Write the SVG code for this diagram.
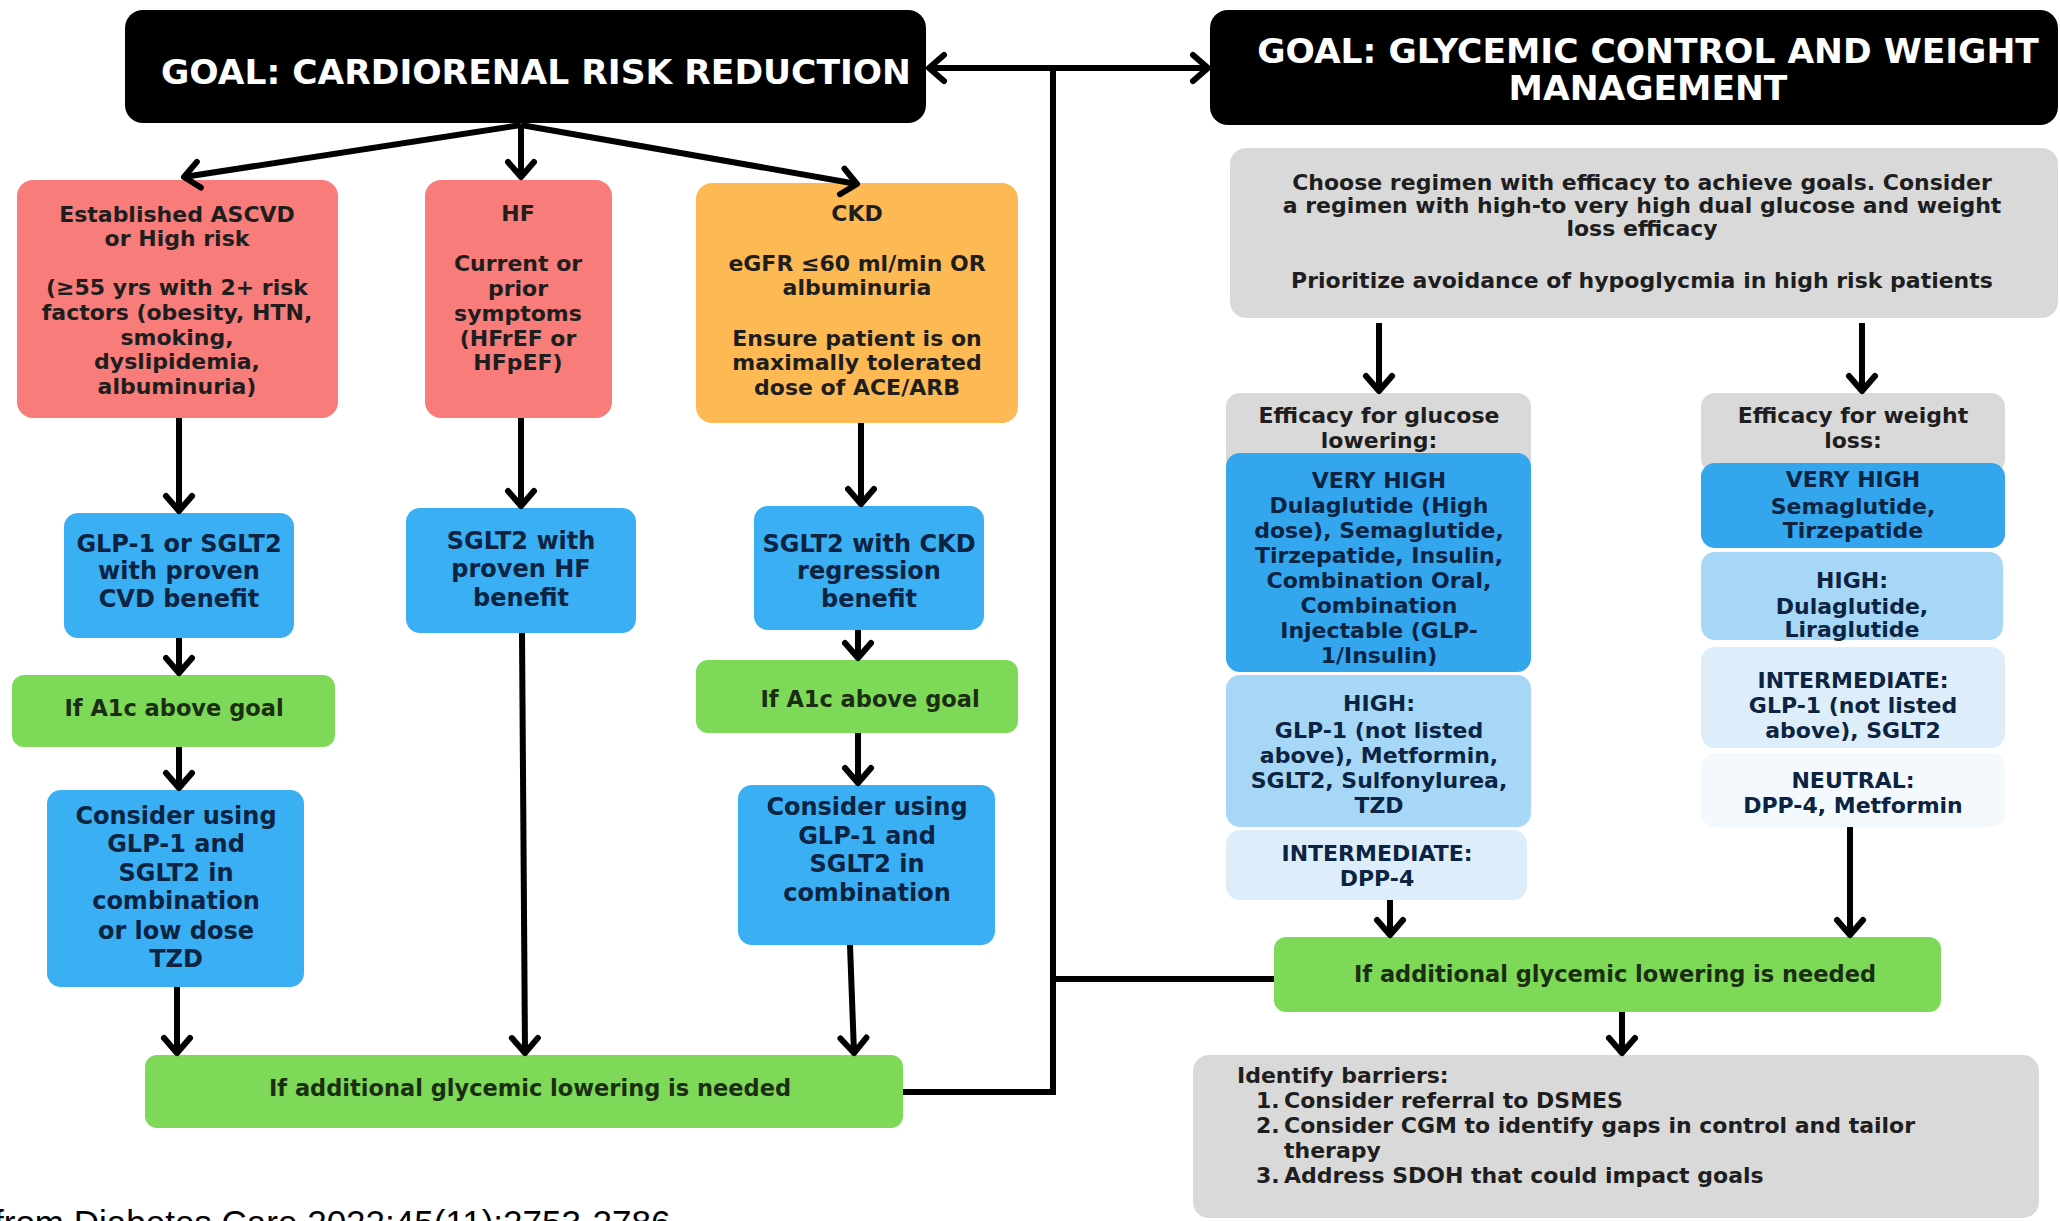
<svg xmlns="http://www.w3.org/2000/svg" width="2060" height="1221" viewBox="0 0 2060 1221">
<defs>
<marker id="ah" viewBox="0 0 26 34" refX="20" refY="17" markerWidth="26" markerHeight="34" markerUnits="userSpaceOnUse" orient="auto-start-reverse">
<path d="M5,4 L20,17 L5,30" fill="none" stroke="#000" stroke-width="6" stroke-linecap="round" stroke-linejoin="round"/>
</marker>
<style>
text { font-family: "DejaVu Sans", "Liberation Sans", sans-serif; font-weight: bold; text-anchor: middle; }
.s { font-size: 22px; fill: #1e1e1e; }
.b { font-size: 24px; fill: #0c2442; }
.e { font-size: 22px; fill: #0c2442; }
.g { font-size: 22.5px; fill: #1b2d12; }
.l { text-anchor: start; }
.title { font-size: 34.5px; fill: #ffffff; }
.black { fill: #000000; }
.red { fill: #F87C7A; }
.orange { fill: #FDBA54; }
.blue { fill: #3BAFF3; }
.green { fill: #7DD957; }
.grey { fill: #D9D9D9; }
.vh { fill: #33A6EE; }
.hi { fill: #A6D7F7; }
.im { fill: #DDEEFA; }
.nu { fill: #F4F9FD; }
.conn { fill: none; stroke: #000; stroke-width: 6; }
.arr { marker-end: url(#ah); }
</style>
</defs>
<rect x="0" y="0" width="2060" height="1221" fill="#ffffff"/>

<g id="goal-cardiorenal">
<rect class="black" x="125" y="10" width="801" height="113" rx="18"/>
<text class="title" x="536" y="84">GOAL: CARDIORENAL RISK REDUCTION</text>
</g>

<g id="goal-glycemic">
<rect class="black" x="1210" y="10" width="848" height="115" rx="18"/>
<text class="title" x="1648" y="63">GOAL: GLYCEMIC CONTROL AND WEIGHT</text>
<text class="title" x="1648" y="100">MANAGEMENT</text>
</g>

<g id="ascvd">
<rect class="red" x="17" y="180" width="321" height="238" rx="16"/>
<text class="s" x="177" y="222">Established ASCVD</text>
<text class="s" x="177" y="246">or High risk</text>
<text class="s" x="177" y="295">(≥55 yrs with 2+ risk</text>
<text class="s" x="177" y="320">factors (obesity, HTN,</text>
<text class="s" x="177" y="345">smoking,</text>
<text class="s" x="177" y="369">dyslipidemia,</text>
<text class="s" x="177" y="394">albuminuria)</text>
</g>

<g id="hf">
<rect class="red" x="425" y="180" width="187" height="238" rx="16"/>
<text class="s" x="518" y="221">HF</text>
<text class="s" x="518" y="271">Current or</text>
<text class="s" x="518" y="296">prior</text>
<text class="s" x="518" y="321">symptoms</text>
<text class="s" x="518" y="346">(HFrEF or</text>
<text class="s" x="518" y="370">HFpEF)</text>
</g>

<g id="ckd">
<rect class="orange" x="696" y="183" width="322" height="240" rx="16"/>
<text class="s" x="857" y="221">CKD</text>
<text class="s" x="857" y="271">eGFR ≤60 ml/min OR</text>
<text class="s" x="857" y="295">albuminuria</text>
<text class="s" x="857" y="346">Ensure patient is on</text>
<text class="s" x="857" y="370">maximally tolerated</text>
<text class="s" x="857" y="395">dose of ACE/ARB</text>
</g>

<g id="glp1-sglt2-cvd">
<rect class="blue" x="64" y="513" width="230" height="125" rx="14"/>
<text class="b" x="179" y="552">GLP-1 or SGLT2</text>
<text class="b" x="179" y="579">with proven</text>
<text class="b" x="179" y="607">CVD benefit</text>
</g>

<g id="sglt2-hf">
<rect class="blue" x="406" y="508" width="230" height="125" rx="14"/>
<text class="b" x="521" y="549">SGLT2 with</text>
<text class="b" x="521" y="577">proven HF</text>
<text class="b" x="521" y="606">benefit</text>
</g>

<g id="sglt2-ckd">
<rect class="blue" x="754" y="506" width="230" height="124" rx="14"/>
<text class="b" x="869" y="552">SGLT2 with CKD</text>
<text class="b" x="869" y="579">regression</text>
<text class="b" x="869" y="607">benefit</text>
</g>

<g id="a1c-left">
<rect class="green" x="12" y="675" width="323" height="72" rx="12"/>
<text class="g" x="174" y="716">If A1c above goal</text>
</g>

<g id="a1c-right">
<rect class="green" x="696" y="660" width="322" height="73" rx="12"/>
<text class="g" x="870" y="707">If A1c above goal</text>
</g>

<g id="combo-left">
<rect class="blue" x="47" y="790" width="257" height="197" rx="14"/>
<text class="b" x="176" y="824">Consider using</text>
<text class="b" x="176" y="852">GLP-1 and</text>
<text class="b" x="176" y="881">SGLT2 in</text>
<text class="b" x="176" y="909">combination</text>
<text class="b" x="176" y="939">or low dose</text>
<text class="b" x="176" y="967">TZD</text>
</g>

<g id="combo-right">
<rect class="blue" x="738" y="785" width="257" height="160" rx="14"/>
<text class="b" x="867" y="815">Consider using</text>
<text class="b" x="867" y="844">GLP-1 and</text>
<text class="b" x="867" y="872">SGLT2 in</text>
<text class="b" x="867" y="901">combination</text>
</g>

<g id="additional-left">
<rect class="green" x="145" y="1055" width="758" height="73" rx="12"/>
<text class="g" x="530" y="1096">If additional glycemic lowering is needed</text>
</g>

<g id="choose-regimen">
<rect class="grey" x="1230" y="148" width="828" height="170" rx="16"/>
<text class="s" x="1642" y="190">Choose regimen with efficacy to achieve goals. Consider</text>
<text class="s" x="1642" y="213">a regimen with high-to very high dual glucose and weight</text>
<text class="s" x="1642" y="236">loss efficacy</text>
<text class="s" x="1642" y="288">Prioritize avoidance of hypoglycmia in high risk patients</text>
</g>

<g id="glucose-efficacy">
<rect class="grey" x="1226" y="393" width="305" height="80" rx="14"/>
<text class="s" x="1379" y="423">Efficacy for glucose</text>
<text class="s" x="1379" y="448">lowering:</text>
<rect class="vh" x="1226" y="453" width="305" height="219" rx="14"/>
<text class="e" x="1379" y="488">VERY HIGH</text>
<text class="e" x="1379" y="513">Dulaglutide (High</text>
<text class="e" x="1379" y="538">dose), Semaglutide,</text>
<text class="e" x="1379" y="563">Tirzepatide, Insulin,</text>
<text class="e" x="1379" y="588">Combination Oral,</text>
<text class="e" x="1379" y="613">Combination</text>
<text class="e" x="1379" y="638">Injectable (GLP-</text>
<text class="e" x="1379" y="663">1/Insulin)</text>
<rect class="hi" x="1226" y="675" width="305" height="152" rx="14"/>
<text class="e" x="1379" y="711">HIGH:</text>
<text class="e" x="1379" y="738">GLP-1 (not listed</text>
<text class="e" x="1379" y="763">above), Metformin,</text>
<text class="e" x="1379" y="788">SGLT2, Sulfonylurea,</text>
<text class="e" x="1379" y="813">TZD</text>
<rect class="im" x="1226" y="830" width="301" height="70" rx="14"/>
<text class="e" x="1377" y="861">INTERMEDIATE:</text>
<text class="e" x="1377" y="886">DPP-4</text>
</g>

<g id="weight-efficacy">
<rect class="grey" x="1701" y="393" width="304" height="80" rx="14"/>
<text class="s" x="1853" y="423">Efficacy for weight</text>
<text class="s" x="1853" y="448">loss:</text>
<rect class="vh" x="1701" y="463" width="304" height="85" rx="14"/>
<text class="e" x="1853" y="487">VERY HIGH</text>
<text class="e" x="1853" y="514">Semaglutide,</text>
<text class="e" x="1853" y="538">Tirzepatide</text>
<rect class="hi" x="1701" y="552" width="302" height="88" rx="14"/>
<text class="e" x="1852" y="588">HIGH:</text>
<text class="e" x="1852" y="614">Dulaglutide,</text>
<text class="e" x="1852" y="637">Liraglutide</text>
<rect class="im" x="1701" y="647" width="304" height="101" rx="14"/>
<text class="e" x="1853" y="688">INTERMEDIATE:</text>
<text class="e" x="1853" y="713">GLP-1 (not listed</text>
<text class="e" x="1853" y="738">above), SGLT2</text>
<rect class="nu" x="1701" y="753" width="304" height="74" rx="14"/>
<text class="e" x="1853" y="788">NEUTRAL:</text>
<text class="e" x="1853" y="813">DPP-4, Metformin</text>
</g>

<g id="additional-right">
<rect class="green" x="1274" y="937" width="667" height="75" rx="12"/>
<text class="g" x="1615" y="982">If additional glycemic lowering is needed</text>
</g>

<g id="barriers">
<rect class="grey" x="1193" y="1055" width="846" height="163" rx="16"/>
<text class="s l" x="1237" y="1083">Identify barriers:</text>
<text class="s l" x="1256" y="1108">1.<tspan x="1284">Consider referral to DSMES</tspan></text>
<text class="s l" x="1256" y="1133">2.<tspan x="1284">Consider CGM to identify gaps in control and tailor</tspan></text>
<text class="s l" x="1284" y="1158">therapy</text>
<text class="s l" x="1256" y="1183">3.<tspan x="1284">Address SDOH that could impact goals</tspan></text>
</g>

<g id="connectors">
<path class="conn" d="M929,68 L1208,68" marker-start="url(#ah)" marker-end="url(#ah)"/>
<path class="conn" d="M1053,68 L1053,1092 L903,1092"/>
<path class="conn" d="M1053,979 L1274,979"/>
<path class="conn arr" d="M521,125 L184,177"/>
<path class="conn arr" d="M521,125 L521,177"/>
<path class="conn arr" d="M521,125 L857,184"/>
<path class="conn arr" d="M179,418 L179,511"/>
<path class="conn arr" d="M179,638 L179,673"/>
<path class="conn arr" d="M179,747 L179,788"/>
<path class="conn arr" d="M177,987 L177,1053"/>
<path class="conn arr" d="M521,418 L521,506"/>
<path class="conn arr" d="M522,633 L525,1053"/>
<path class="conn arr" d="M861,423 L861,504"/>
<path class="conn arr" d="M858,630 L858,658"/>
<path class="conn arr" d="M858,733 L858,783"/>
<path class="conn arr" d="M850,945 L854,1053"/>
<path class="conn arr" d="M1379,323 L1379,391"/>
<path class="conn arr" d="M1862,323 L1862,391"/>
<path class="conn arr" d="M1390,900 L1390,935"/>
<path class="conn arr" d="M1850,827 L1850,935"/>
<path class="conn arr" d="M1622,1012 L1622,1053"/>
</g>

<text x="-6" y="1235" style="font-family: 'Liberation Sans', Arial, sans-serif; font-weight: normal; font-size: 35px; text-anchor: start; fill: #000;">from Diabetes Care 2022;45(11):2753-2786</text>
</svg>
